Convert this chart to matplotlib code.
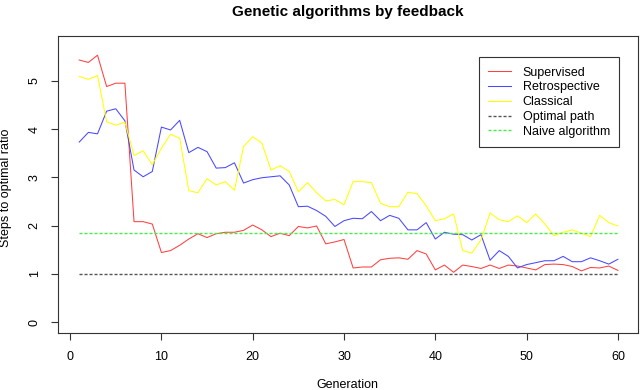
import matplotlib
matplotlib.use("Agg")
import matplotlib.pyplot as plt
import numpy as np

plt.rcParams['font.family'] = ['Liberation Sans', 'DejaVu Sans']

generation = list(range(1, 61))
supervised = [5.43, 5.38, 5.53, 4.88, 4.95, 4.95, 2.08, 2.08, 2.03, 1.44,
              1.48, 1.59, 1.72, 1.83, 1.75, 1.83, 1.86, 1.86, 1.90, 2.01,
              1.91, 1.77, 1.84, 1.79, 1.98, 1.95, 1.99, 1.62, 1.66, 1.71,
              1.12, 1.14, 1.14, 1.29, 1.32, 1.33, 1.30, 1.48, 1.41, 1.08,
              1.18, 1.03, 1.18, 1.15, 1.11, 1.18, 1.11, 1.18, 1.16, 1.12,
              1.08, 1.19, 1.20, 1.19, 1.15, 1.06, 1.13, 1.12, 1.16, 1.07]
retrospective = [3.73, 3.93, 3.90, 4.37, 4.42, 4.17, 3.15, 3.01, 3.12, 4.04,
                 3.98, 4.18, 3.51, 3.62, 3.53, 3.19, 3.20, 3.30, 2.88, 2.95,
                 2.99, 3.01, 3.03, 2.84, 2.39, 2.40, 2.31, 2.19, 1.98, 2.10,
                 2.15, 2.14, 2.29, 2.10, 2.21, 2.15, 1.91, 1.91, 2.06, 1.72,
                 1.86, 1.82, 1.81, 1.70, 1.81, 1.28, 1.48, 1.36, 1.12, 1.19,
                 1.23, 1.27, 1.27, 1.36, 1.25, 1.25, 1.33, 1.27, 1.20, 1.30]
classical = [5.09, 5.03, 5.11, 4.15, 4.08, 4.14, 3.45, 3.55, 3.26, 3.60,
             3.89, 3.81, 2.72, 2.68, 2.97, 2.84, 2.91, 2.73, 3.64, 3.84,
             3.71, 3.15, 3.24, 3.12, 2.70, 2.89, 2.68, 2.51, 2.54, 2.43,
             2.91, 2.91, 2.89, 2.46, 2.39, 2.39, 2.69, 2.66, 2.41, 2.10,
             2.14, 2.24, 1.48, 1.43, 1.70, 2.26, 2.12, 2.08, 2.20, 2.06,
             2.24, 2.03, 1.79, 1.86, 1.91, 1.84, 1.77, 2.21, 2.06, 1.99]
optimal_level = 1.0
naive_level = 1.85

series_labels = ["Supervised", "Retrospective", "Classical", "Optimal path", "Naive algorithm"]
x_ticks = [0, 10, 20, 30, 40, 50, 60]
y_ticks = [0, 1, 2, 3, 4, 5]

W, H = 640, 390
fig = plt.figure(figsize=(6.4, 3.9), dpi=100)
L, R, T, B = 57.7, 638, 36, 333
ax = fig.add_axes([L / W, 1 - B / H, (R - L) / W, (B - T) / H])

lw = 0.75
ax.plot(generation, supervised, color='#ff4040', lw=lw, label=series_labels[0])
ax.plot(generation, retrospective, color='#4848ff', lw=lw, label=series_labels[1])
ax.plot(generation, classical, color='#ffff00', lw=lw, label=series_labels[2])
ax.plot(generation, [optimal_level] * len(generation), color='#555555', lw=1.0,
        linestyle=(0, (2.2, 1.4)), label=series_labels[3])
ax.plot(generation, [naive_level] * len(generation), color='#44ee44', lw=1.0,
        linestyle=(0, (2.2, 1.4)), label=series_labels[4])

ax.set_xlim(-1.36, 62.2)
ax.set_ylim(-0.228, 5.928)
ax.set_xticks(x_ticks)
ax.set_yticks(y_ticks)
ax.set_xticklabels([str(v) for v in x_ticks])
ax.set_yticklabels([str(v) for v in y_ticks])
for s in ax.spines.values():
    s.set_linewidth(0.8)
    s.set_color('#333333')
ax.tick_params(axis='both', direction='out', length=5.2, width=0.8, color='#333333',
               labelsize=9, labelcolor='black')
ax.tick_params(axis='x', pad=8)
ax.tick_params(axis='y', pad=7)
for lab in ax.get_yticklabels():
    lab.set_rotation(90)
    lab.set_va('center')
    lab.set_ha('right')

ax.set_xlabel("Generation", fontsize=9)
ax.xaxis.set_label_coords(0.5, (B - 385) / (B - T))
ax.xaxis.label.set_va('center')
ax.set_ylabel("Steps to optimal ratio", fontsize=9)
ax.yaxis.set_label_coords((6 - L) / (R - L), 0.49)
ax.yaxis.label.set_va('center')

ax.text(0.5, 1 + (T - 12) / (B - T), "Genetic algorithms by feedback",
        transform=ax.transAxes, ha='center', va='center', fontsize=11,
        fontweight='bold')

leg = ax.legend(loc='upper right', bbox_to_anchor=((619.3 - L) / (R - L), 1 - (57.3 - T) / (B - T)),
                fontsize=9, frameon=True, fancybox=False, framealpha=1,
                edgecolor='#333333', handlelength=1.8, handletextpad=0.95,
                labelspacing=0.22, borderpad=0.75, borderaxespad=0)
leg.get_frame().set_linewidth(0.8)

fig.savefig("out.png", dpi=100)
